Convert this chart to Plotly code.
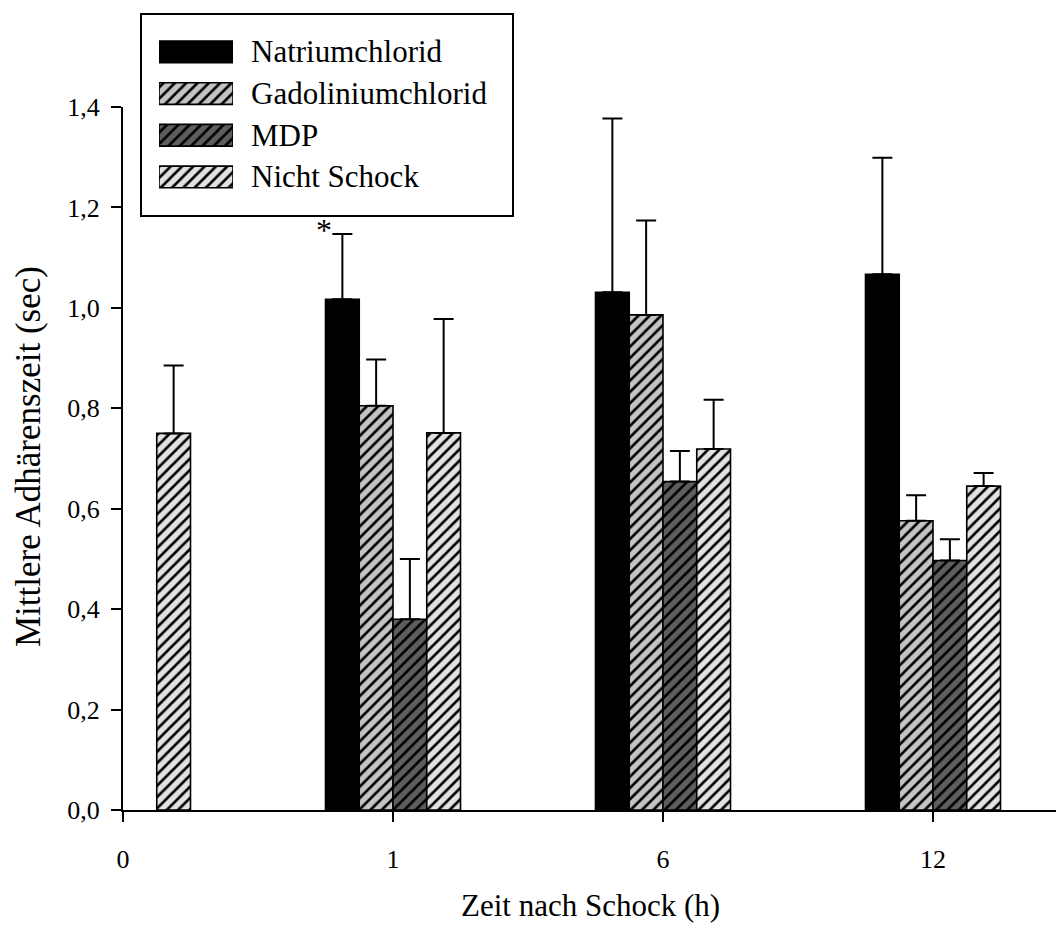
import plotly.graph_objects as go

# Mean adherence time per time point after shock, with upper SD whiskers
time_labels = ["0", "1", "6", "12"]
time_pos = [0, 1, 2, 3]

natrium = [None, 1.017, 1.031, 1.067]
natrium_err = [None, 0.130, 0.346, 0.232]

gadolinium = [None, 0.805, 0.986, 0.576]
gadolinium_err = [None, 0.092, 0.188, 0.051]

mdp = [None, 0.380, 0.654, 0.497]
mdp_err = [None, 0.120, 0.061, 0.042]

nicht_schock = [0.750, 0.751, 0.719, 0.645]
nicht_schock_err = [0.135, 0.227, 0.098, 0.026]

series_names = ["Natriumchlorid", "Gadoliniumchlorid", "MDP", "Nicht Schock"]
series_values = [natrium, gadolinium, mdp, nicht_schock]
series_errors = [natrium_err, gadolinium_err, mdp_err, nicht_schock_err]
series_fill = ["#000000", "#c4c4c4", "#5e5e5e", "#e2e2e2"]
series_hatch = ["", "/", "/", "/"]

FONT = "Liberation Serif"
W, H = 1056, 925
# plot area in pixels
PX_L, PX_R, PX_T, PX_B = 123, 1056, 107, 810


def px_x(x):
    return x / W


def px_y(y):
    return (H - y) / H


def bar_marker(fill, hatch):
    return dict(
        color=fill,
        line=dict(color="black", width=1.6),
        pattern=dict(shape=hatch, fgcolor="black", bgcolor=fill,
                     size=8, solidity=0.33, fillmode="replace"),
    )


fig = go.Figure()

for name, vals, errs, fill, hatch in zip(series_names, series_values,
                                         series_errors, series_fill, series_hatch):
    fig.add_trace(go.Bar(
        x=time_pos, y=vals, name=name, showlegend=False,
        marker=bar_marker(fill, hatch),
        error_y=dict(type="data", array=errs,
                     arrayminus=[0 if e is not None else None for e in errs],
                     symmetric=False, color="black", thickness=2, width=10),
    ))

# legend swatches: one horizontal bar per series on a small overlay axis
for slot, (fill, hatch) in enumerate(zip(series_fill, series_hatch)):
    fig.add_trace(go.Bar(
        x=[1], y=[slot], orientation="h", width=0.52, offset=-0.26,
        xaxis="x2", yaxis="y2", showlegend=False, hoverinfo="skip",
        marker=bar_marker(fill, hatch),
    ))

leg_top, leg_step = 31, 41.7
annotations = []
for i, name in enumerate(series_names):
    annotations.append(dict(
        x=px_x(249), y=px_y(leg_top + leg_step * (i + 0.5)),
        xref="paper", yref="paper", text=name, showarrow=False,
        xanchor="left", yanchor="middle",
        font=dict(family=FONT, size=31, color="black"),
    ))

# axis titles and significance marker
annotations.append(dict(
    x=px_x(590), y=px_y(905), xref="paper", yref="paper",
    text="Zeit nach Schock (h)", showarrow=False,
    xanchor="center", yanchor="middle",
    font=dict(family=FONT, size=31, color="black"),
))
annotations.append(dict(
    x=px_x(29), y=px_y(457), xref="paper", yref="paper",
    text="Mittlere Adhärenszeit (sec)", showarrow=False, textangle=-90,
    xanchor="center", yanchor="middle",
    font=dict(family=FONT, size=35, color="black"),
))
annotations.append(dict(
    x=0.745, y=natrium[1] + natrium_err[1] + 0.008, xref="x", yref="y",
    text="*", showarrow=False, xanchor="center", yanchor="middle",
    font=dict(family=FONT, size=32, color="black"),
))

fig.update_layout(
    width=W, height=H,
    margin=dict(l=0, r=0, t=0, b=0),
    paper_bgcolor="white", plot_bgcolor="white",
    barmode="group", bargap=0.5, bargroupgap=0,
    separators=", ",
    font=dict(family=FONT, color="black"),
    xaxis=dict(
        domain=[px_x(PX_L), px_x(PX_R)],
        range=[0, (PX_R - PX_L) / 270.0],
        tickmode="array", tickvals=time_pos, ticktext=time_labels,
        ticks="outside", ticklen=10, tickwidth=1.6, tickcolor="black",
        showline=True, linecolor="black", linewidth=2,
        showgrid=False, zeroline=False, automargin=False,
        tickfont=dict(family=FONT, size=26, color="black"),
        ticklabelstandoff=15,
    ),
    yaxis=dict(
        domain=[px_y(PX_B), px_y(PX_T)],
        range=[0, 1.4], dtick=0.2, tick0=0, tickformat=".1f",
        ticks="outside", ticklen=10, tickwidth=1.6, tickcolor="black",
        showline=True, linecolor="black", linewidth=2,
        showgrid=False, zeroline=False, automargin=False,
        tickfont=dict(family=FONT, size=26, color="black"),
        ticklabelstandoff=6,
    ),
    xaxis2=dict(domain=[px_x(159), px_x(233)], range=[0, 1], visible=False,
                anchor="y2", fixedrange=True),
    yaxis2=dict(domain=[px_y(leg_top + 4 * leg_step), px_y(leg_top)],
                range=[3.5, -0.5], visible=False, anchor="x2", fixedrange=True),
    shapes=[dict(type="rect", xref="paper", yref="paper",
                 x0=px_x(141), x1=px_x(513), y0=px_y(216), y1=px_y(14),
                 line=dict(color="black", width=2), layer="above")],
    annotations=annotations,
)

fig.write_html("out.html")
